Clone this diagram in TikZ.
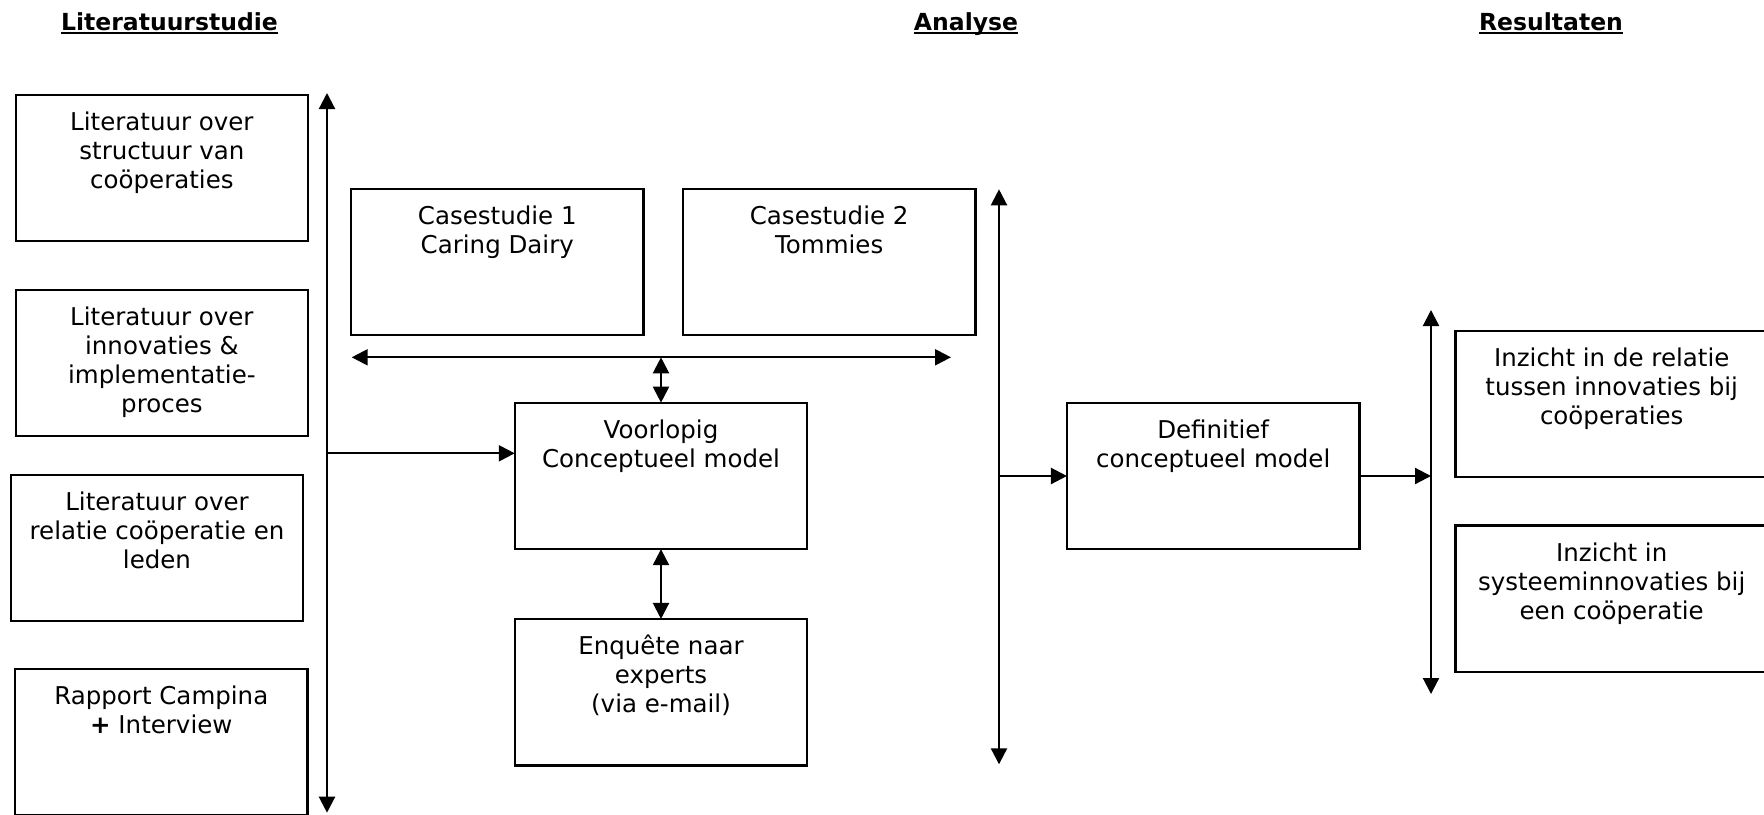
\documentclass[tikz,border=0pt]{standalone}
\usepackage{fontspec}
\setmainfont{DejaVu Sans}
\usetikzlibrary{arrows.meta}
\newcommand\fstrut{\rule{0pt}{20pt}}
\begin{document}
\begin{tikzpicture}[x=1pt,y=-1pt,
  box/.style={draw, line width=2.2pt, minimum width=292.5pt, minimum height=146.5pt, inner sep=0pt, outer sep=0pt},
  wbox/.style={box, minimum width=312.5pt},
  txt/.style={anchor=north, align=center, inner sep=0pt, font=\fontsize{24.5}{29}\selectfont},
  ttl/.style={anchor=base, inner sep=0pt, font=\fontsize{23.5}{28}\selectfont\bfseries},
  tip/.tip={Triangle[length=16pt,width=16pt]},
  arr/.style={line width=2.2pt, -tip},
  darr/.style={line width=2.2pt, tip-tip},
  uline/.style={line width=2pt}]
\useasboundingbox (0,0) rectangle (1764,814);

% column headings
\node[ttl] (t1) at (169.5,30.5) {Literatuurstudie};
\node[ttl] (t2) at (966,30.5) {Analyse};
\node[ttl] (t3) at (1551,30.5) {Resultaten};
\foreach \t in {t1,t2,t3}
  \draw[uline] ([yshift=-2pt]\t.base west) -- ([yshift=-2pt]\t.base east);

% literature boxes
\node[box] (l1) at (161.9,167.9) {};
\node[box] (l2) at (161.9,362.9) {};
\node[box] (l3) at (157,548) {};
\node[box] (l4) at (161.3,742) {};
\node[txt] (l1t) at ([yshift=-15.7pt]l1.north) {\fstrut Literatuur over\\structuur van\\coöperaties};
\node[txt] (l2t) at ([yshift=-15.7pt]l2.north) {\fstrut Literatuur over\\innovaties \&\\implementatie-\\proces};
\node[txt] (l3t) at ([yshift=-15.7pt]l3.north) {\fstrut Literatuur over\\relatie coöperatie en\\leden};
\node[txt] (l4t) at ([yshift=-15.7pt]l4.north) {\fstrut Rapport Campina\\\textbf{+} Interview};

% analysis boxes
\node[box] (c1) at (497.3,262) {};
\node[box] (c2) at (829.2,262) {};
\node[box] (v) at (661,475.9) {};
\node[box] (e) at (661,692.2) {};
\node[box] (d) at (1213.2,476) {};
\node[txt] (c1t) at ([yshift=-15.7pt]c1.north) {\fstrut Casestudie 1\\Caring Dairy};
\node[txt] (c2t) at ([yshift=-15.7pt]c2.north) {\fstrut Casestudie 2\\Tommies};
\node[txt] (vt) at ([yshift=-15.7pt]v.north) {\fstrut Voorlopig\\Conceptueel model};
\node[txt] (et) at ([yshift=-15.7pt]e.north) {\fstrut Enquête naar\\experts\\(via e-mail)};
\node[txt] (dt) at ([yshift=-15.7pt]d.north) {\fstrut Definitief\\conceptueel model};

% result boxes
\node[wbox] (r1) at (1611.7,404) {};
\node[wbox] (r2) at (1611.7,598.7) {};
\node[txt] (r1t) at ([yshift=-15.7pt]r1.north) {\fstrut Inzicht in de relatie\\tussen innovaties bij\\coöperaties};
\node[txt] (r2t) at ([yshift=-15.7pt]r2.north) {\fstrut Inzicht in\\systeeminnovaties bij\\een coöperatie};

% connector end points
\coordinate (a1t) at (327,93);
\coordinate (a1b) at (327,812.7);
\coordinate (j1) at (327,453.3);
\coordinate (hl) at (351.7,357.3);
\coordinate (hr) at (951,357.3);
\coordinate (a2t) at (999,189.3);
\coordinate (a2b) at (999,764.3);
\coordinate (a3t) at (1431,310);
\coordinate (a3b) at (1431,694);

% connectors
\draw[darr] (a1b) -- (a1t);
\draw[arr] (j1) -- (j1 -| v.west);
\draw[darr] (hl) -- (hr);
\draw[darr] (v.north |- hl) -- (v.north);
\draw[darr] (v.south) -- (e.north);
\draw[darr] (a2b) -- (a2t);
\draw[arr] (a2t |- d.west) -- (d.west);
\draw[arr] (d.east) -- (d.east -| a3t);
\draw[darr] (a3b) -- (a3t);
\end{tikzpicture}
\end{document}
